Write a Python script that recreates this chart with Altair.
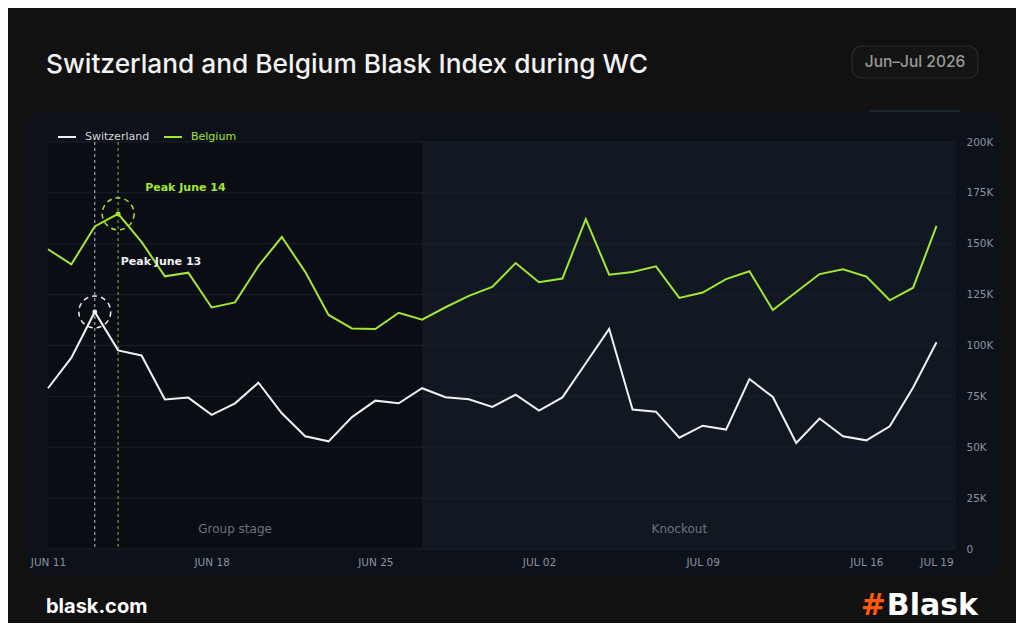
import altair as alt
import pandas as pd

# ---------------- data ----------------
countries = ["Switzerland", "Belgium"]
series_colors = ["#f0f0f0", "#a3e635"]
legend_label_colors = ["#d4d4d4", "#a3e635"]

# Blask index in thousands, Jun 11 .. Jul 19 2026 (daily)
switzerland_k = [79.0, 94.0, 116.5, 97.6, 95.1, 73.5, 74.4, 65.9, 71.6, 81.7,
                 66.7, 55.4, 52.9, 64.8, 72.9, 71.6, 79.0, 74.6, 73.6, 69.8,
                 75.8, 68.0, 74.5, 91.3, 108.2, 68.5, 67.5, 54.7, 60.6, 58.7,
                 83.5, 74.7, 52.1, 64.1, 55.4, 53.4, 60.3, 79.4, 101.6]
belgium_k = [147.3, 139.9, 158.5, 164.7, 150.9, 134.0, 135.8, 118.7, 121.2, 139.1,
             153.3, 136.2, 115.0, 108.4, 108.1, 116.1, 112.7, 118.8, 124.4, 128.8,
             140.5, 131.1, 132.9, 162.1, 134.8, 136.1, 138.9, 123.4, 126.0, 132.6,
             136.5, 117.4, 126.3, 135.1, 137.5, 133.9, 122.2, 128.4, 158.8]

first_day = "2026-06-11"
last_day = "2026-07-19"
x_tick_dates = ["2026-06-11", "2026-06-18", "2026-06-25", "2026-07-02",
                "2026-07-09", "2026-07-16", "2026-07-19"]
y_tick_values = [0, 25000, 50000, 75000, 100000, 125000, 150000, 175000, 200000]

stage_names = ["Group stage", "Knockout"]
stage_starts = ["2026-06-11", "2026-06-27"]
stage_ends = ["2026-06-27", "2026-07-19"]

title_text = "Switzerland and Belgium Blask Index during WC"
period_text = "Jun\u2013Jul 2026"
site_text = "blask.com"
logo_mark = "#"
logo_word = "Blask"

# ---------------- tables ----------------
dates = pd.date_range(first_day, last_day, freq="D").strftime("%Y-%m-%d").tolist()
long = pd.DataFrame({
    "date": dates * 2,
    "country": [countries[0]] * len(dates) + [countries[1]] * len(dates),
    "value": [v * 1000 for v in switzerland_k] + [v * 1000 for v in belgium_k],
})
peaks = long.loc[long.groupby("country")["value"].idxmax()].copy()
peaks["label"] = peaks["date"].apply(
    lambda s: "Peak " + pd.Timestamp(s).strftime("%B") + " " + str(pd.Timestamp(s).day))

stage_df = pd.DataFrame({"stage": stage_names, "start": stage_starts, "end": stage_ends})
stage_df["mid"] = [
    (pd.Timestamp(a) + (pd.Timestamp(b) - pd.Timestamp(a)) / 2).strftime("%Y-%m-%dT%H:%M:%SZ")
    for a, b in zip(stage_starts, stage_ends)]
grid_df = pd.DataFrame({"v": y_tick_values})
one = pd.DataFrame({"k": [0]})


def ms(s):
    return int(pd.Timestamp(s, tz="UTC").value // 1_000_000)


W, H = 908, 407
x_scale = alt.Scale(type="utc", domain=[ms(first_day), ms(last_day) + 20 * 3600 * 1000])
y_scale = alt.Scale(domain=[0, 200000], nice=False)
x_axis = alt.Axis(values=[ms(d) for d in x_tick_dates],
                  labelExpr="upper(utcFormat(datum.value, '%b %d'))",
                  grid=False, ticks=False, domain=False, labelColor="#8b93a1",
                  labelFontSize=10.5, labelFont="DejaVu Sans", labelPadding=8,
                  labelFlush=False, labelOverlap=False, zindex=1)
y_axis = alt.Axis(orient="right", values=y_tick_values,
                  labelExpr="datum.value == 0 ? '0' : format(datum.value / 1000, 'd') + 'K'",
                  grid=False, ticks=False, domain=False, labelColor="#8b93a1",
                  labelFontSize=10.5, labelFont="DejaVu Sans", labelPadding=10,
                  labelFlush=False, zindex=1)


def X(field):
    return alt.X(field, type="temporal", scale=x_scale, axis=x_axis, title=None)


def Y(field):
    return alt.Y(field, type="quantitative", scale=y_scale, axis=y_axis, title=None)


color = alt.Color("country:N", scale=alt.Scale(domain=countries, range=series_colors), legend=None)

# ---------------- layers ----------------
panel = alt.Chart(one).mark_rect(fill="#0d1119", cornerRadius=12).encode(
    x=alt.value(-21), x2=alt.value(952), y=alt.value(-30), y2=alt.value(433))
tab = alt.Chart(one).mark_rect(fill="#1c2438", cornerRadius=1).encode(
    x=alt.value(821), x2=alt.value(912), y=alt.value(-32), y2=alt.value(-30))

group_rect = alt.Chart(stage_df).transform_filter(
    alt.datum.stage == stage_names[0]).mark_rect(fill="#0a0d14").encode(
    x=X("start"), x2=alt.X2("end"))
knock_rect = alt.Chart(stage_df).transform_filter(
    alt.datum.stage == stage_names[1]).mark_rect(fill="#121821").encode(
    x=X("start"), x2=alt.value(W))

grid = alt.Chart(grid_df).mark_rule(color="#19202b", strokeWidth=1).encode(y=Y("v"))

title = alt.Chart(one).mark_text(text=title_text, align="left", baseline="middle",
                                 font="Inter", fontSize=26.3, fontWeight=500,
                                 color="#f2f2f2").encode(x=alt.value(-2), y=alt.value(-77))
pill_rect = alt.Chart(one).mark_rect(fill="#141414", stroke="#2b2b2b", strokeWidth=1.2,
                                     cornerRadius=10).encode(
    x=alt.value(804), x2=alt.value(930), y=alt.value(-96), y2=alt.value(-64))
pill_text = alt.Chart(one).mark_text(text=period_text, align="center", baseline="middle",
                                     font="Inter", fontSize=15.5, fontWeight=500,
                                     color="#9a9a9a").encode(x=alt.value(867), y=alt.value(-80))
site = alt.Chart(one).mark_text(text=site_text, align="left", baseline="middle",
                                font="Inter", fontSize=20, fontWeight="bold",
                                color="#ffffff").encode(x=alt.value(-2), y=alt.value(465))
logo_a = alt.Chart(one).mark_text(text=logo_mark, align="right", baseline="middle",
                                  font="DejaVu Sans", fontSize=30, fontWeight="bold",
                                  color="#ff5a0a").encode(x=alt.value(838), y=alt.value(464))
logo_b = alt.Chart(one).mark_text(text=logo_word, align="right", baseline="middle",
                                  font="DejaVu Sans", fontSize=30, fontWeight="bold",
                                  color="#ffffff").encode(x=alt.value(930), y=alt.value(464))

peak_rules = alt.Chart(peaks).mark_rule(strokeDash=[3, 3], strokeWidth=1.2, opacity=0.65).encode(
    x=X("date"), color=color)
lines = alt.Chart(long).mark_line(strokeWidth=2).encode(
    x=X("date"), y=Y("value"), color=color)
circles = alt.Chart(peaks).mark_point(shape="circle", size=1018, filled=False,
                                      strokeDash=[5, 4], strokeWidth=1.5, opacity=1).encode(
    x=X("date"), y=Y("value"), color=color)
dots = alt.Chart(peaks).mark_circle(size=24, opacity=1).encode(
    x=X("date"), y=Y("value"), color=color)
label_be = alt.Chart(peaks).transform_filter(alt.datum.country == countries[1]).mark_text(
    align="left", baseline="middle", dx=27, dy=-26, font="DejaVu Sans", fontSize=11,
    fontWeight="bold").encode(x=X("date"), y=Y("value"), text="label:N", color=color)
label_ch = alt.Chart(peaks).transform_filter(alt.datum.country == countries[0]).mark_text(
    align="left", baseline="middle", dx=26, dy=-50, font="DejaVu Sans", fontSize=11,
    fontWeight="bold").encode(x=X("date"), y=Y("value"), text="label:N", color=color)

band_text = alt.Chart(stage_df).mark_text(font="DejaVu Sans", fontSize=12, color="#6b7280",
                                          baseline="middle", align="center").encode(
    x=X("mid"), y=alt.value(386.5), text="stage:N")

legend_layers = []
legend_x = [10, 116]
for name, col, lcol, lx in zip(countries, series_colors, legend_label_colors, legend_x):
    legend_layers.append(alt.Chart(one).mark_rule(color=col, strokeWidth=2).encode(
        x=alt.value(lx), x2=alt.value(lx + 18), y=alt.value(-5)))
    legend_layers.append(alt.Chart(one).mark_text(text=name, align="left", baseline="middle",
                                                  font="DejaVu Sans", fontSize=11,
                                                  color=lcol).encode(
        x=alt.value(lx + 27), y=alt.value(-5)))

chart = alt.layer(
    panel, tab, group_rect, knock_rect, grid,
    title, pill_rect, pill_text, site, logo_a, logo_b,
    peak_rules, lines, circles, dots, label_be, label_ch, band_text,
    *legend_layers,
).properties(
    width=W, height=H,
    padding={"left": 40, "top": 134, "right": 60, "bottom": 74},
    autosize=alt.AutoSizeParams(type="none"),
    background="#111111",
).configure_view(strokeWidth=0)

chart.save("out.html", embed_options={"renderer": "svg", "actions": False})
